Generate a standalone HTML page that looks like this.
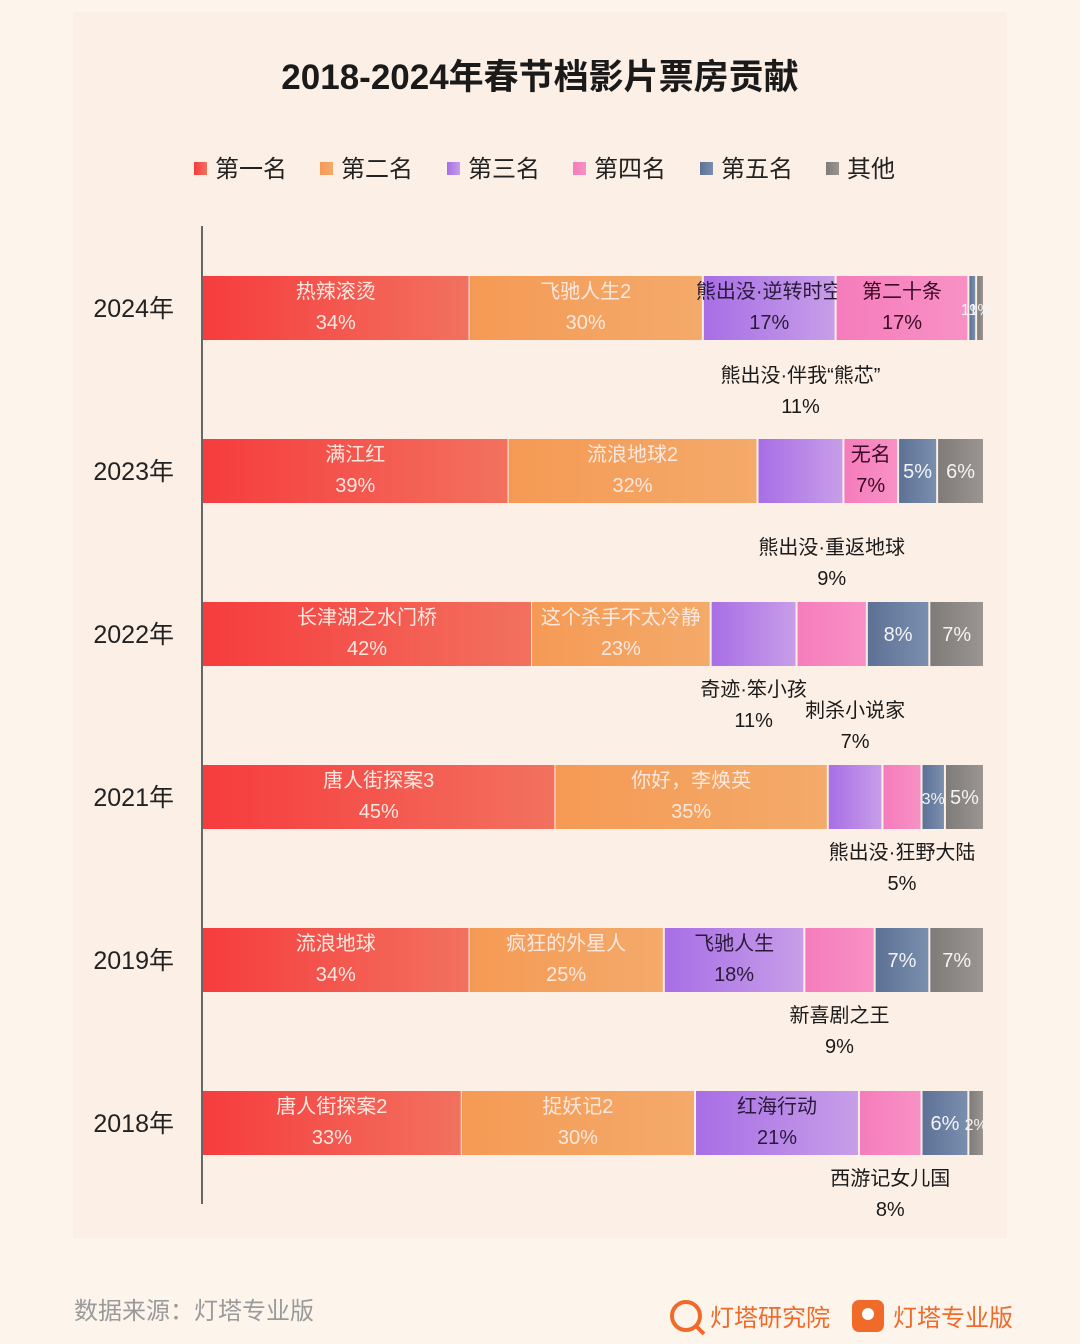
<!DOCTYPE html>
<html><head><meta charset="utf-8">
<style>
html,body{margin:0;padding:0;}
body{width:1080px;height:1344px;background:#fdf4ec;font-family:"Liberation Sans","Noto Sans CJK SC",sans-serif;position:relative;overflow:hidden;}
#panel{position:absolute;left:73px;top:12px;width:934px;height:1226px;background:#fcefe5;}
svg{position:absolute;left:0;top:0;}
</style></head>
<body>
<div id="panel"></div>
<svg id="chart" width="1080" height="1344">
<defs>
<linearGradient id="g0" x1="0" x2="1"><stop offset="0" stop-color="#f63c3e"/><stop offset="1" stop-color="#f2715f"/></linearGradient>
<linearGradient id="g1" x1="0" x2="1"><stop offset="0" stop-color="#f59a55"/><stop offset="1" stop-color="#f4aa6a"/></linearGradient>
<linearGradient id="g2" x1="0" x2="1"><stop offset="0" stop-color="#a86ee6"/><stop offset="1" stop-color="#c79ee8"/></linearGradient>
<linearGradient id="g3" x1="0" x2="1"><stop offset="0" stop-color="#f57cbc"/><stop offset="1" stop-color="#f891c4"/></linearGradient>
<linearGradient id="g4" x1="0" x2="1"><stop offset="0" stop-color="#5d7196"/><stop offset="1" stop-color="#7a8fae"/></linearGradient>
<linearGradient id="g5" x1="0" x2="1"><stop offset="0" stop-color="#7f7b79"/><stop offset="1" stop-color="#9a9593"/></linearGradient>
</defs>
<text x="540" y="89" text-anchor="middle" font-size="35" font-weight="bold" fill="#1a1a1a">2018-2024年春节档影片票房贡献</text>
<line x1="202" y1="226" x2="202" y2="1204" stroke="#666" stroke-width="2"/>
<g id="legend"></g>
<g id="bars"></g>
<text x="74" y="1319" font-size="24" fill="#9a9a9a">数据来源：灯塔专业版</text>
<g>
<circle cx="686" cy="1316" r="14" fill="none" stroke="#f06a2a" stroke-width="4"/>
<line x1="696" y1="1326" x2="704" y2="1334" stroke="#f06a2a" stroke-width="4"/>
<text x="710" y="1326" font-size="24" fill="#f06a2a">灯塔研究院</text>
</g>
<g>
<rect x="852" y="1300" width="32" height="32" rx="7" fill="#f06a2a"/>
<circle cx="868" cy="1314" r="6" fill="#fff"/>
<text x="893" y="1326" font-size="24" fill="#f06a2a">灯塔专业版</text>
</g>
</svg>
<script>
const years = ['2024年','2023年','2022年','2021年','2019年','2018年'];
const legendNames = ['第一名','第二名','第三名','第四名','第五名','其他'];
const shares2024 = [34,30,17,17,1,1];
const shares2023 = [39,32,11,7,5,6];
const shares2022 = [42,23,11,9,8,7];
const shares2021 = [45,35,7,5,3,5];
const shares2019 = [34,25,18,9,7,7];
const shares2018 = [33,30,21,8,6,2];
const films2024 = ['热辣滚烫','飞驰人生2','熊出没·逆转时空','第二十条','',''];
const films2023 = ['满江红','流浪地球2','熊出没·伴我“熊芯”','无名','',''];
const films2022 = ['长津湖之水门桥','这个杀手不太冷静','奇迹·笨小孩','熊出没·重返地球','',''];
const films2021 = ['唐人街探案3','你好，李焕英','刺杀小说家','熊出没·狂野大陆','',''];
const films2019 = ['流浪地球','疯狂的外星人','飞驰人生','新喜剧之王','',''];
const films2018 = ['唐人街探案2','捉妖记2','红海行动','西游记女儿国','',''];
const place2024 = ['i','i','i','i','i','i'];
const place2023 = ['i','i','a','i','i','i'];
const place2022 = ['i','i','b','a','i','i'];
const place2021 = ['i','i','a','b','i','i'];
const place2019 = ['i','i','i','b','i','i'];
const place2018 = ['i','i','i','b','i','i'];
const shares = [shares2024,shares2023,shares2022,shares2021,shares2019,shares2018];
const films = [films2024,films2023,films2022,films2021,films2019,films2018];
const places = [place2024,place2023,place2022,place2021,place2019,place2018];

const NS='http://www.w3.org/2000/svg';
const x0=203, x1=984, barH=64, yTop=308, yStep=163;
const xScale = v => x0 + (x1-x0)*v/100;
const yScale = i => yTop + i*yStep;
const textColors=['#fde8df','#fde8df','#2a1a3a','#3a0a24','#f4f4f8','#f4f4f4'];
function mk(tag,attrs,parent){const e=document.createElementNS(NS,tag);for(const k in attrs)e.setAttribute(k,attrs[k]);parent.appendChild(e);return e;}

const lg=document.getElementById('legend');
const legendX=[194,320,447,573,700,826];
legendNames.forEach((n,i)=>{
  const g=mk('g',{},lg);
  
  
  mk('rect',{x:legendX[i],y:162,width:13,height:13,fill:'url(#g'+i+')'},g);
  const t=mk('text',{x:legendX[i]+21,y:177,'font-size':24,fill:'#222'},g);
  t.textContent=n;
});

const bg=document.getElementById('bars');
years.forEach((yr,r)=>{
  const cy=yScale(r);
  const row=mk('g',{},bg);
  
  
  const yl=mk('text',{x:174,y:cy+9,'text-anchor':'end','font-size':25,fill:'#222'},row);
  
  
  yl.textContent=yr;
  let cum=0;
  shares[r].forEach((v,i)=>{
    const xa=xScale(cum), xb=xScale(cum+v); cum+=v;
    const rect=mk('rect',{x:xa+(i?1:0),y:cy-barH/2,width:Math.max(1,xb-xa-(i?2:0)),height:barH,fill:'url(#g'+i+')'},row);
    
    
    const mid=(xa+xb)/2, name=films[r][i], p=places[r][i], pct=v+'%';
    if(p==='i'){
      const fs = v<=3?16:20;
      if(name){
        const t1=mk('text',{x:mid,y:cy-10,'text-anchor':'middle','font-size':20,fill:textColors[i]},row);t1.textContent=name;
        const t2=mk('text',{x:mid,y:cy+21,'text-anchor':'middle','font-size':20,fill:textColors[i]},row);t2.textContent=pct;
      } else {
        const t2=mk('text',{x:mid,y:cy+7,'text-anchor':'middle','font-size':fs,fill:textColors[i]},row);t2.textContent=pct;
      }
    } else {
      const base = p==='a' ? cy-(r===1?89:80) : cy+62;
      const t1=mk('text',{x:mid,y:base,'text-anchor':'middle','font-size':20,fill:'#1a1a1a'},row);t1.textContent=name;
      const t2=mk('text',{x:mid,y:base+31,'text-anchor':'middle','font-size':20,fill:'#1a1a1a'},row);t2.textContent=pct;
    }
  });
});
</script>
</body></html>
